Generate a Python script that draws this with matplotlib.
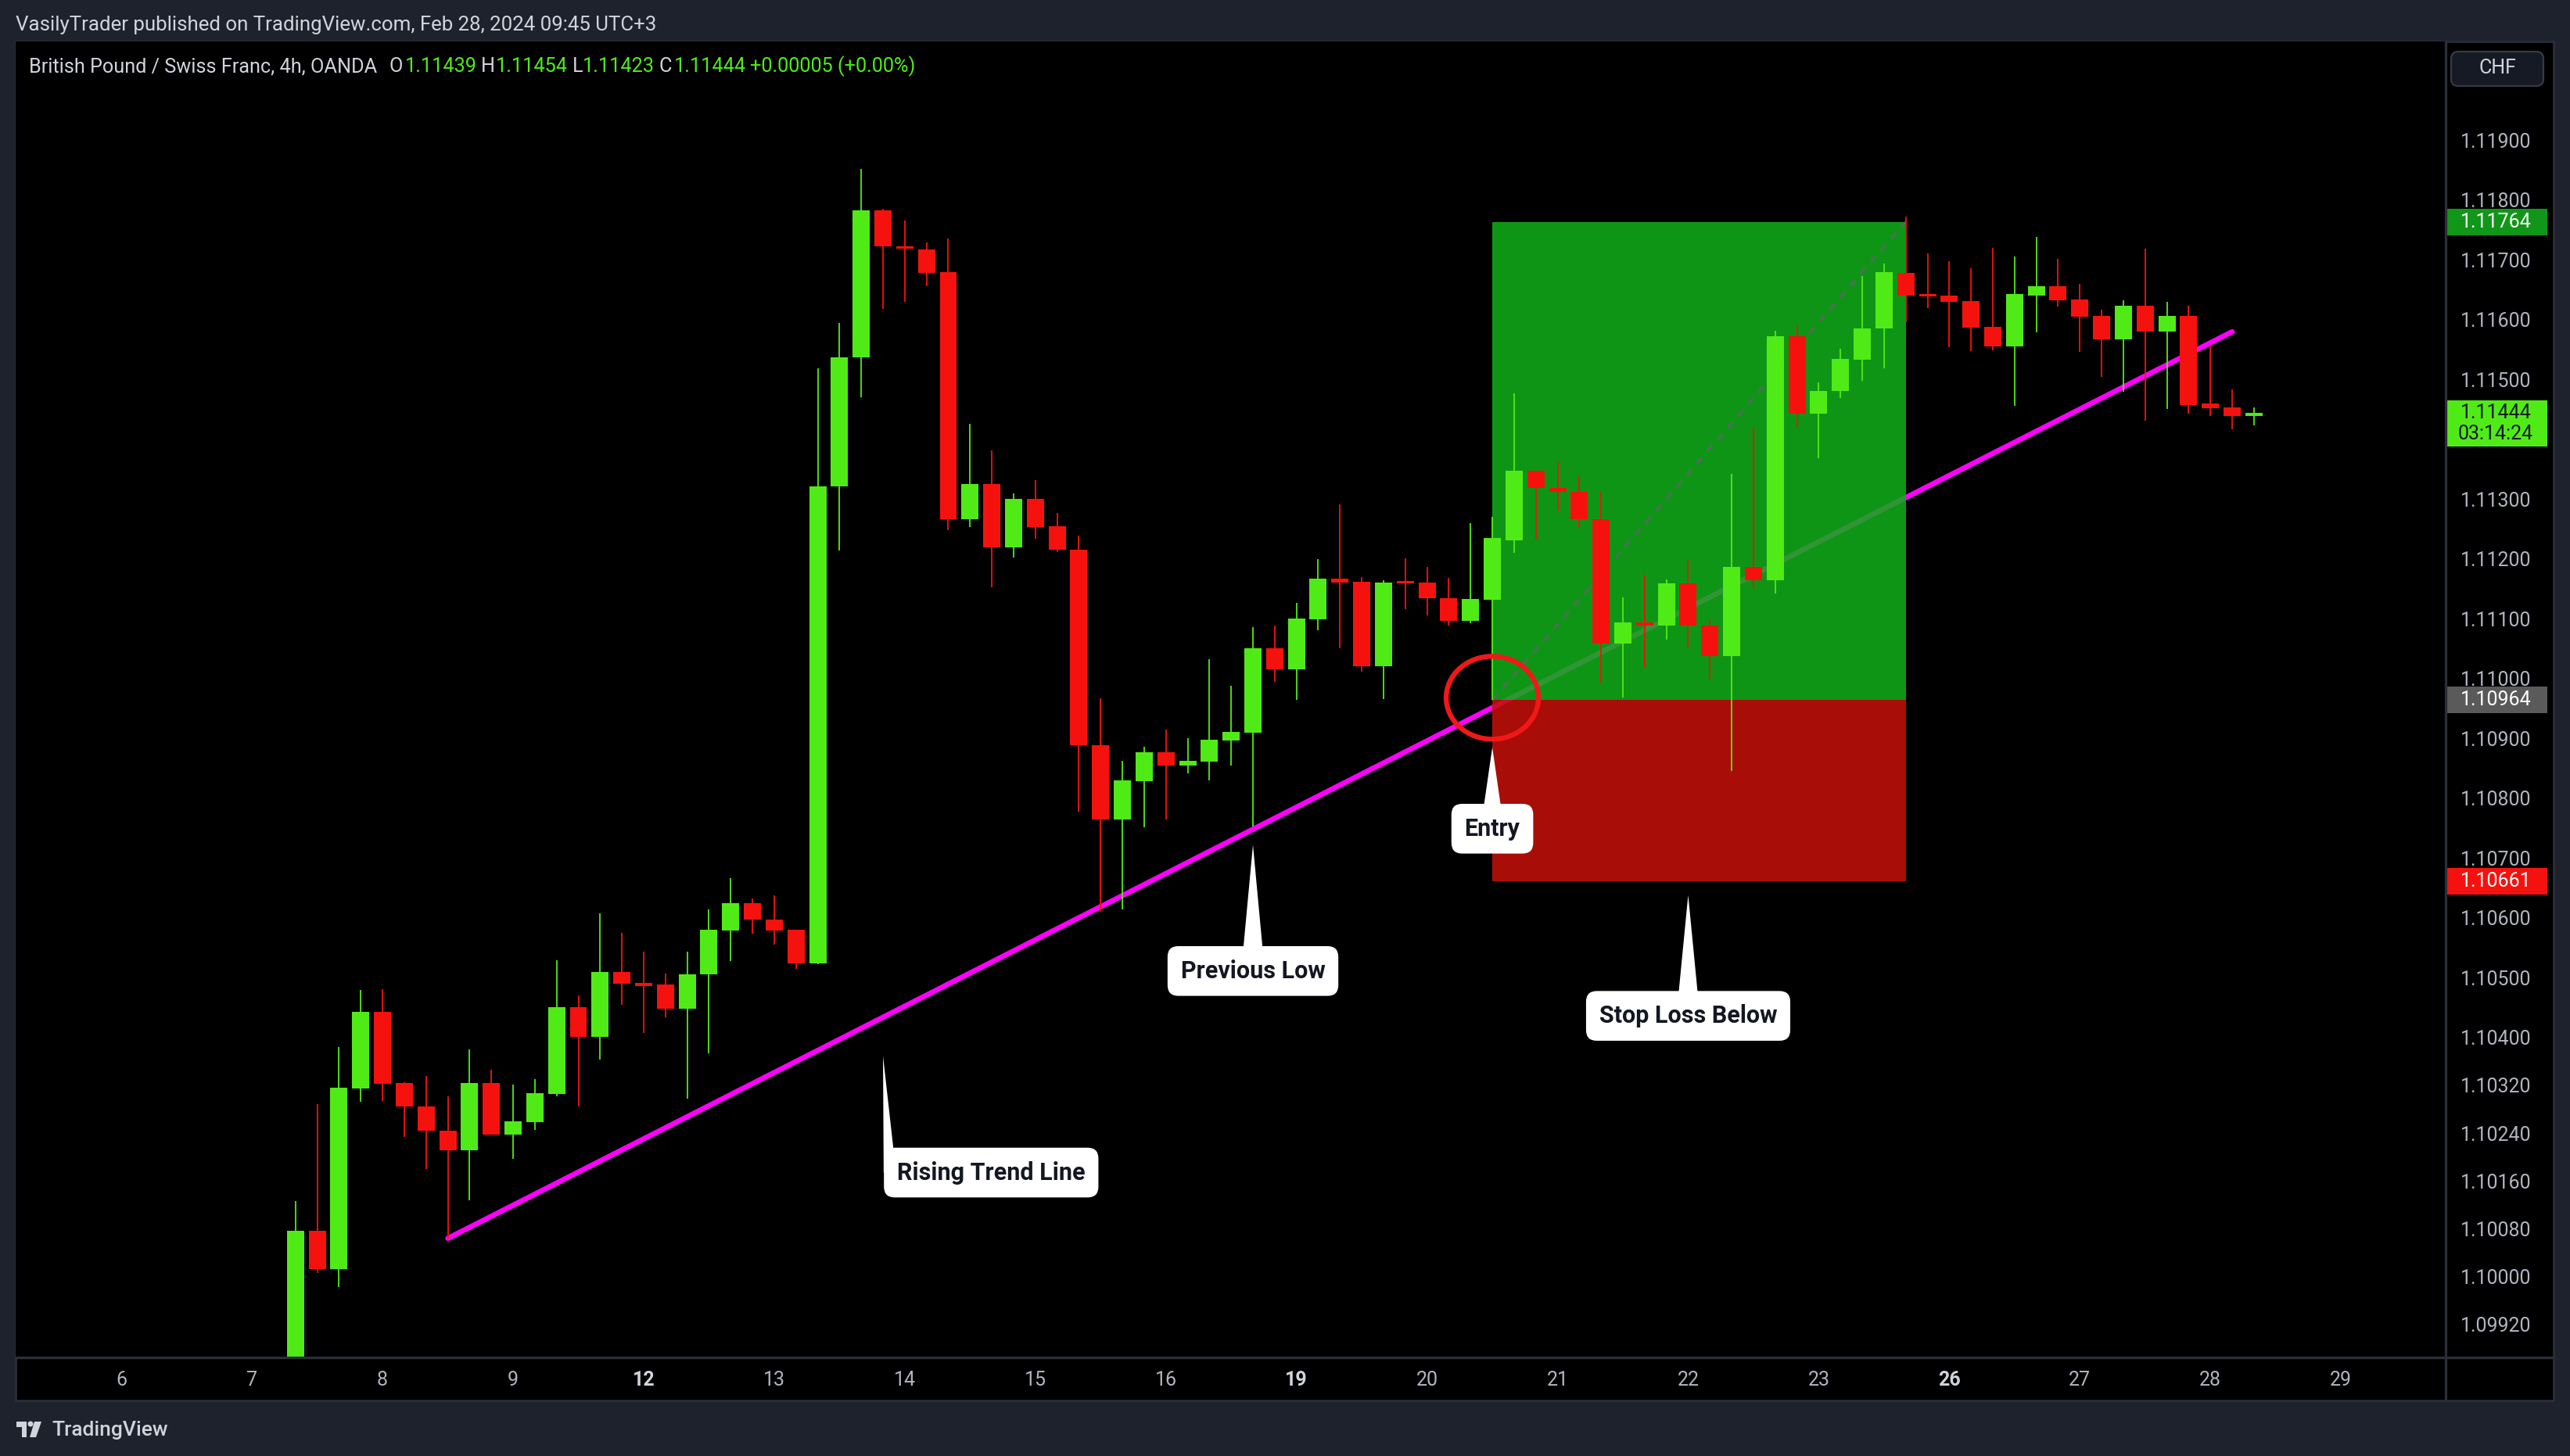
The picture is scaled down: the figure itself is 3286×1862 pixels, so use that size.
import numpy as np
import matplotlib.pyplot as plt
import matplotlib.transforms as mtransforms
from matplotlib.patches import Rectangle, Ellipse, Polygon, FancyBboxPatch, Circle
from matplotlib.lines import Line2D

plt.rcParams['font.family'] = ['Roboto', 'DejaVu Sans']

W, H, DPI = 3286, 1862, 200

BG = '#1e222d'
SEP = '#2a2e39'
TXT = '#d1d4dc'
AXTXT = '#b2b5be'
GREEN = '#50eb17'
RED = '#f5120e'

# 4h candles, bar index 0 = day 6 00:00
bars = np.arange(8, 99)
opens = [1.09850, 1.10077, 1.10012, 1.10315, 1.10443, 1.10324, 1.10284, 1.10244, 1.10211, 1.10324,
         1.10238, 1.10259, 1.10306, 1.10450, 1.10401, 1.10510, 1.10491, 1.10488, 1.10448, 1.10505,
         1.10579, 1.10625, 1.10597, 1.10580, 1.10524, 1.11322, 1.11537, 1.11783, 1.11723, 1.11717,
         1.11680, 1.11267, 1.11325, 1.11219, 1.11301, 1.11255, 1.11216, 1.10888, 1.10765, 1.10829,
         1.10877, 1.10854, 1.10861, 1.10897, 1.10910, 1.11051, 1.11016, 1.11099, 1.11167, 1.11162,
         1.11021, 1.11162, 1.11161, 1.11134, 1.11096, 1.11132, 1.11231, 1.11347, 1.11319, 1.11312,
         1.11267, 1.11059, 1.11094, 1.11089, 1.11159, 1.11089, 1.11038, 1.11187, 1.11165, 1.11572,
         1.11443, 1.11481, 1.11533, 1.11585, 1.11679, 1.11643, 1.11640, 1.11631, 1.11588, 1.11556,
         1.11641, 1.11656, 1.11634, 1.11606, 1.11567, 1.11623, 1.11580, 1.11607, 1.11460, 1.11453,
         1.11439]
highs = [1.10126, 1.10288, 1.10384, 1.10479, 1.10481, 1.10325, 1.10336, 1.10302, 1.10380, 1.10346,
         1.10321, 1.10330, 1.10529, 1.10470, 1.10608, 1.10575, 1.10544, 1.10507, 1.10544, 1.10614,
         1.10666, 1.10632, 1.10638, 1.10580, 1.11519, 1.11595, 1.11852, 1.11786, 1.11766, 1.11730,
         1.11736, 1.11426, 1.11382, 1.11309, 1.11332, 1.11277, 1.11239, 1.10967, 1.10863, 1.10886,
         1.10915, 1.10900, 1.11033, 1.10988, 1.11086, 1.11089, 1.11127, 1.11200, 1.11291, 1.11170,
         1.11164, 1.11201, 1.11187, 1.11169, 1.11260, 1.11270, 1.11477, 1.11347, 1.11362, 1.11339,
         1.11312, 1.11136, 1.11173, 1.11166, 1.11198, 1.11098, 1.11342, 1.11420, 1.11581, 1.11590,
         1.11495, 1.11552, 1.11673, 1.11694, 1.11772, 1.11711, 1.11698, 1.11686, 1.11720, 1.11706,
         1.11738, 1.11702, 1.11660, 1.11617, 1.11632, 1.11719, 1.11630, 1.11624, 1.11555, 1.11484,
         1.11454]
lows = [1.09840, 1.10006, 1.09982, 1.10293, 1.10294, 1.10234, 1.10180, 1.10064, 1.10127, 1.10238,
        1.10197, 1.10245, 1.10301, 1.10285, 1.10363, 1.10455, 1.10407, 1.10433, 1.10298, 1.10373,
        1.10528, 1.10573, 1.10555, 1.10514, 1.10522, 1.11214, 1.11470, 1.11618, 1.11630, 1.11656,
        1.11248, 1.11254, 1.11153, 1.11203, 1.11234, 1.11211, 1.10777, 1.10611, 1.10614, 1.10751,
        1.10765, 1.10841, 1.10830, 1.10855, 1.10753, 1.10995, 1.10965, 1.11081, 1.11051, 1.11011,
        1.10966, 1.11116, 1.11106, 1.11089, 1.11093, 1.10965, 1.11210, 1.11234, 1.11281, 1.11252,
        1.10993, 1.10969, 1.11019, 1.11065, 1.11052, 1.10998, 1.10845, 1.11150, 1.11142, 1.11419,
        1.11369, 1.11469, 1.11498, 1.11519, 1.11596, 1.11620, 1.11554, 1.11547, 1.11549, 1.11456,
        1.11579, 1.11622, 1.11546, 1.11504, 1.11479, 1.11431, 1.11451, 1.11443, 1.11439, 1.11417,
        1.11423]
closes = [1.10077, 1.10012, 1.10316, 1.10443, 1.10323, 1.10284, 1.10244, 1.10211, 1.10324, 1.10238,
          1.10260, 1.10307, 1.10450, 1.10401, 1.10510, 1.10490, 1.10486, 1.10448, 1.10506, 1.10580,
          1.10625, 1.10597, 1.10579, 1.10524, 1.11322, 1.11537, 1.11783, 1.11723, 1.11719, 1.11679,
          1.11267, 1.11325, 1.11219, 1.11301, 1.11254, 1.11215, 1.10888, 1.10765, 1.10830, 1.10877,
          1.10854, 1.10863, 1.10898, 1.10911, 1.11051, 1.11016, 1.11100, 1.11167, 1.11161, 1.11021,
          1.11161, 1.11159, 1.11134, 1.11096, 1.11133, 1.11235, 1.11347, 1.11319, 1.11312, 1.11267,
          1.11059, 1.11094, 1.11089, 1.11159, 1.11089, 1.11038, 1.11187, 1.11165, 1.11572, 1.11443,
          1.11481, 1.11534, 1.11585, 1.11680, 1.11641, 1.11639, 1.11630, 1.11587, 1.11556, 1.11643,
          1.11656, 1.11633, 1.11605, 1.11567, 1.11623, 1.11580, 1.11607, 1.11458, 1.11452, 1.11439,
          1.11444]

day_labels = ['6', '7', '8', '9', '12', '13', '14', '15', '16', '19', '20', '21', '22', '23',
              '26', '27', '28', '29']
week_starts = ['12', '19', '26']
bars_per_day = 6

price_ticks = [1.119, 1.118, 1.117, 1.116, 1.115, 1.113, 1.112, 1.111, 1.110, 1.109, 1.108,
               1.107, 1.106, 1.105, 1.104, 1.1032, 1.1024, 1.1016, 1.1008, 1.1000, 1.0992]

entry_bar, exit_bar = 63, 82
entry_price, target_price, stop_price = 1.10964, 1.11764, 1.10661
last_price = 1.11444
timer_text = '03:14:24'

trend_bars = [15, 97]
trend_prices = [1.10064, 1.11580]

ohlc_letters = ['O', 'H', 'L', 'C']
ohlc_values = ['1.11439', '1.11454', '1.11423', '1.11444']
change_text = '+0.00005 (+0.00%)'

# (text, box centre bar, box centre price, apex bar, apex price, base left bar, base right bar)
callouts = [
    ('Entry', 63.0, 1.10749, 63.0, 1.10885, 62.46, 63.54),
    ('Previous Low', 52.0, 1.10511, 52.0, 1.10722, 51.46, 52.54),
    ('Stop Loss Below', 72.0, 1.10436, 72.0, 1.10638, 71.46, 72.54),
    ('Rising Trend Line', 39.97, 1.10174, 35.0, 1.10369, 35.03, 35.6),
]


def fx(x):
    return x / W


def fy(y):
    return 1 - y / H


fig = plt.figure(figsize=(W / DPI, H / DPI), dpi=DPI, facecolor=BG)

# black chart panel with separators
fig.patches.append(Rectangle((fx(20), fy(1791)), fx(3265) - fx(20), fy(53) - fy(1791),
                             transform=fig.transFigure, fc='black', ec=SEP, lw=1.0, zorder=-1))
fig.lines.append(Line2D([fx(3127), fx(3127)], [fy(53), fy(1791)], transform=fig.transFigure,
                        color=SEP, lw=1.2, zorder=5))
fig.lines.append(Line2D([fx(20), fx(3265)], [fy(1736), fy(1736)], transform=fig.transFigure,
                        color=SEP, lw=1.2, zorder=5))

ax = fig.add_axes([fx(20), fy(1736), fx(3127) - fx(20), fy(53) - fy(1736)])
ax.set_facecolor('black')
for s in ax.spines.values():
    s.set_visible(False)
ax.set_xlim(-4.86, 106.81)
ax.set_ylim(1.098648, 1.120654)

# trend line (under the position box)
ax.plot(trend_bars, trend_prices, color='#ff00ff', lw=2.4, solid_capstyle='round', zorder=1.5)

# long position tool
ax.add_patch(Rectangle((entry_bar, entry_price), exit_bar - entry_bar, target_price - entry_price,
                       fc=(18 / 255, 172 / 255, 25 / 255), alpha=0.87, lw=0, zorder=2))
ax.add_patch(Rectangle((entry_bar, stop_price), exit_bar - entry_bar, entry_price - stop_price,
                       fc=(195 / 255, 15 / 255, 9 / 255), alpha=0.87, lw=0, zorder=2))
ax.plot([entry_bar, exit_bar], [entry_price, target_price], color='#5f6270', lw=0.9,
        ls=(0, (4, 4)), zorder=3)

# candles
o = np.array(opens)
c = np.array(closes)
col = np.where(c >= o, GREEN, RED)
ax.vlines(bars, lows, highs, colors=col, lw=0.65, zorder=4)
body_lo = np.minimum(o, c)
body_h = np.maximum(np.abs(c - o), 0.00004)
ax.bar(bars, body_h, bottom=body_lo, width=0.79, color=col, lw=0, zorder=5)

# entry circle
ax.add_patch(Ellipse((entry_bar, 1.10968), 4.24, 0.001386, fill=False, ec='#f01818', lw=2.3, zorder=6))

# callouts
for txt, bx, by, px, py, b0, b1 in callouts:
    ax.add_patch(Polygon([(px, py), (b0, by), (b1, by)], closed=True, fc='white', ec='none', zorder=7))
    ax.text(bx, by, txt, ha='center', va='center', fontsize=11, fontweight='bold', color='#131722',
            zorder=8, bbox=dict(boxstyle='round,pad=0.55,rounding_size=0.45', fc='white', ec='none'))

# axes ticks
ax.set_xticks(np.arange(len(day_labels)) * bars_per_day, day_labels)
ax.set_yticks(price_ticks, [f'{p:.5f}' for p in price_ticks])
ax.tick_params(axis='x', length=0, pad=6.0, labelsize=9, labelcolor=AXTXT)
ax.tick_params(axis='y', length=0, pad=6.8, labelsize=9, labelcolor=AXTXT,
               left=False, labelleft=False, right=True, labelright=True)
for lab in ax.get_xticklabels():
    if lab.get_text() in week_starts:
        lab.set_fontweight('bold')
        lab.set_color('#d1d4dc')

# price scale labels
ytr = ax.get_yaxis_transform()
lab_w = (3257 - 3127) / 3107
lab_x = 1 + 19 / 3107
px_per_price = 76480.0
for price, fc, tc in [(target_price, '#109618', 'white'), (entry_price, '#5a5a5a', 'white'),
                      (stop_price, RED, 'white')]:
    h = 34 / px_per_price
    ax.add_patch(Rectangle((1.0, price - h / 2), lab_w, h, transform=ytr, fc=fc, ec='none',
                           clip_on=False, zorder=10))
    ax.text(lab_x, price, f'{price:.5f}', transform=ytr, ha='left', va='center', fontsize=9,
            color=tc, clip_on=False, zorder=11)
h2 = 59 / px_per_price
top2 = last_price + 16 / px_per_price
ax.add_patch(Rectangle((1.0, top2 - h2), lab_w, h2, transform=ytr, fc=GREEN, ec='none',
                       clip_on=False, zorder=10))
ax.text(lab_x, last_price, f'{last_price:.5f}', transform=ytr, ha='left', va='center', fontsize=9,
        color='#131722', clip_on=False, zorder=11)
ax.text(lab_x - 3 / 3107, last_price - 27 / px_per_price, timer_text, transform=ytr, ha='left',
        va='center', fontsize=9, color='#131722', clip_on=False, zorder=11)

# currency button
ident = mtransforms.IdentityTransform()
fig.patches.append(FancyBboxPatch((3134, H - 110), 118, 44, boxstyle='round,pad=0,rounding_size=9',
                                  transform=ident, fc='#161a25', ec='#363a45', lw=0.8, zorder=6))
fig.text(fx(3193), fy(87), 'CHF', ha='center', va='center', fontsize=9, color=TXT, zorder=7)

# header texts
fig.text(fx(20), fy(32), 'VasilyTrader published on TradingView.com, Feb 28, 2024 09:45 UTC+3',
         ha='left', va='center', fontsize=9.3, color=TXT)
fig.text(fx(37), fy(85), 'British Pound / Swiss Franc, 4h, OANDA', ha='left', va='center',
         fontsize=9.1, color=TXT)
letter_x = [497, 615, 732, 843]
value_x = [518, 634, 745, 862]
for lx, vx, l, v in zip(letter_x, value_x, ohlc_letters, ohlc_values):
    fig.text(fx(lx), fy(85), l, ha='left', va='center', fontsize=9.1, color=TXT)
    fig.text(fx(vx), fy(85), v, ha='left', va='center', fontsize=9.1, color=GREEN)
fig.text(fx(959), fy(85), change_text, ha='left', va='center', fontsize=9.1, color=GREEN)

# footer logo
logo_c = '#d1d4dc'
fig.patches.append(Polygon([(fx(21), fy(1818)), (fx(34), fy(1818)), (fx(34), fy(1838)),
                            (fx(28), fy(1838)), (fx(28), fy(1825)), (fx(21), fy(1825))],
                           closed=True, transform=fig.transFigure, fc=logo_c, ec='none'))
fig.patches.append(Circle((39, H - 1821), 3.5, transform=ident, fc=logo_c, ec='none'))
fig.patches.append(Polygon([(fx(44), fy(1818)), (fx(53), fy(1818)), (fx(46), fy(1838)),
                            (fx(38), fy(1838))],
                           closed=True, transform=fig.transFigure, fc=logo_c, ec='none'))
fig.text(fx(66), fy(1829), 'TradingView', ha='left', va='center', fontsize=9.5,
         fontweight='medium', color=logo_c)

fig.savefig('out.png', dpi=DPI, facecolor=BG)
